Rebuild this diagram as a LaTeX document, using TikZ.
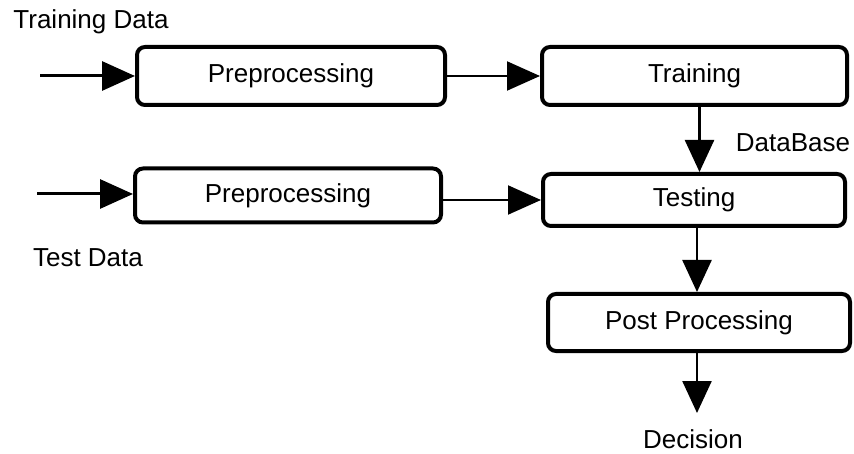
\documentclass[tikz,border=0pt]{standalone}
\usepackage{fontspec}
\setmainfont{Liberation Sans}
\usetikzlibrary{arrows.meta,calc}
\begin{document}
\begin{tikzpicture}[x=1pt,y=-1pt,
  blk/.style={draw=black,line width=4pt,rounded corners=8pt,inner sep=0pt,
    font=\fontsize{26pt}{30pt}\selectfont,text=black},
  lbl/.style={inner sep=0pt,font=\fontsize{26pt}{30pt}\selectfont,text=black},
  arr/.style={line width=2pt,-{Triangle[length=33pt,width=29pt]}},
  inarr/.style={line width=3pt,-{Triangle[length=33pt,width=29pt]}},
  varr/.style={line width=2.5pt,-{Triangle[length=32pt,width=29pt]}}]
\useasboundingbox (0,0) rectangle (854,454);
% blocks
\node[blk,minimum width=308pt,minimum height=58pt] (pre1) at (291,76) {Preprocessing};
\node[blk,minimum width=305pt,minimum height=58pt] (train) at (694.5,76) {Training};
\node[blk,minimum width=306pt,minimum height=54pt] (pre2) at (288,195.5) {Preprocessing};
\node[blk,minimum width=302pt,minimum height=52pt] (test) at (694,200) {Testing};
\node[blk,minimum width=302pt,minimum height=57pt] (post) at (699,322.5) {Post Processing};
% labels
\node[lbl] (tdata) at (91,22) {Training Data};
\node[lbl] (tsdata) at (88,258) {Test Data};
\node[lbl] (db) at (793,143) {DataBase};
\node[lbl,anchor=north] (dec) at (693,429) {Decision};
% free ends
\coordinate (in1) at (40,76);
\coordinate (in2) at (37,194);
\coordinate (dectip) at ($(dec.north)+(0,-16)$);
% connectors
\draw[inarr] (in1) -- (pre1.west);
\draw[inarr] (in2) -- (in2 -| pre2.west);
\draw[arr] (pre1.east) -- (train.west);
\draw[arr] (pre2.east |- test.west) -- (test.west);
\draw[varr] ([xshift=5pt]train.south) -- ([xshift=5pt]train.south |- test.north);
\draw[varr] ([xshift=3pt]test.south) -- ([xshift=3pt]test.south |- post.north);
\draw[varr] ([xshift=-2pt]post.south) -- ([xshift=-2pt]post.south |- dectip);
\end{tikzpicture}
\end{document}
